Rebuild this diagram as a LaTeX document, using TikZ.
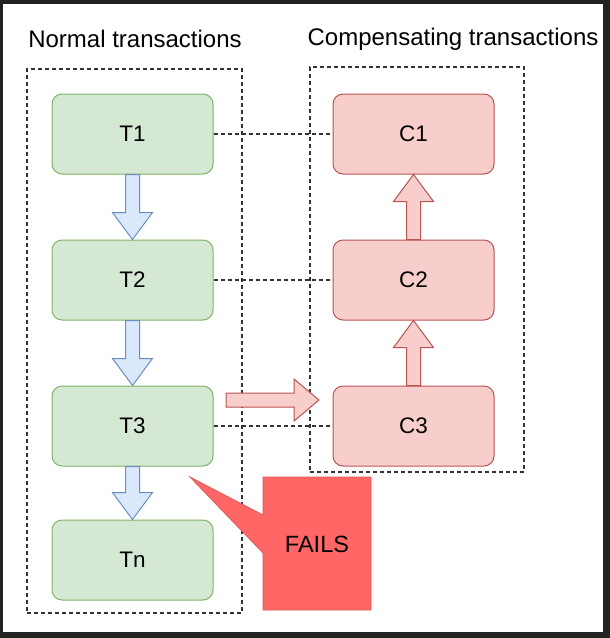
\documentclass[tikz,border=0pt]{standalone}
\usepackage{fontspec}
\setmainfont{Liberation Sans}
\usetikzlibrary{calc}
\definecolor{gfill}{HTML}{D5E8D4}
\definecolor{gline}{HTML}{82B366}
\definecolor{rfill}{HTML}{F8CECC}
\definecolor{rline}{HTML}{B85450}
\definecolor{bfill}{HTML}{DAE8FC}
\definecolor{bline}{HTML}{6C8EBF}
\definecolor{failfill}{HTML}{FF6666}
\definecolor{failline}{HTML}{E05A5A}
\definecolor{frame}{HTML}{222222}
\definecolor{dashc}{HTML}{333333}
\tikzset{
  tbox/.style={draw=gline, fill=gfill, line width=1pt, rounded corners=10pt,
    minimum width=161pt, minimum height=80pt, inner sep=0pt,
    font=\fontsize{22.5}{26}\selectfont},
  cbox/.style={tbox, draw=rline, fill=rfill},
  dbox/.style={draw=dashc, line width=1.2pt, dash pattern=on 4pt off 3pt,
    minimum width=#1, inner sep=0pt},
  dline/.style={draw=dashc, line width=1.2pt, dash pattern=on 4pt off 3pt},
  blarrow/.style={draw=bline, fill=bfill, line width=1pt, line join=miter},
  rdarrow/.style={draw=rline, fill=rfill, line width=1pt, line join=miter},
  title/.style={font=\fontsize{24}{28}\selectfont, inner sep=0pt}
}
\newcommand\vblock[3]{%
  \path[#1] let \p1=(#2), \p2=(#3), \n1={sign(\y2-\y1)} in
    (\x1-7pt,\y1) -- (\x1-7pt,\y2-\n1*27pt) -- (\x1-20pt,\y2-\n1*27pt) --
    (\x1,\y2) -- (\x1+20pt,\y2-\n1*27pt) -- (\x1+7pt,\y2-\n1*27pt) --
    (\x1+7pt,\y1) -- cycle;}
\newcommand\hblock[3]{%
  \path[#1] let \p1=(#2), \p2=(#3), \n1={sign(\x2-\x1)} in
    (\x1,\y1-7pt) -- (\x2-\n1*25pt,\y1-7pt) -- (\x2-\n1*25pt,\y1-21pt) --
    (\x2,\y1) -- (\x2-\n1*25pt,\y1+21pt) -- (\x2-\n1*25pt,\y1+7pt) --
    (\x1,\y1+7pt) -- cycle;}
\begin{document}
\begin{tikzpicture}[x=1pt,y=-1pt]
\fill[frame] (0,0) rectangle (610,638);
\fill[white] (3,4) rectangle (603,632);
\useasboundingbox (0,0) rectangle (610,638);

\node[title] (ntitle) at (135,39) {Normal transactions};
\node[title] (ctitle) at (453,39) {Compensating transactions};

\node[dbox=215pt, minimum height=544pt] (lbox) at (134.5,341) {};
\node[dbox=214pt, minimum height=405pt] (rbox) at (417,269.5) {};

\node[tbox] (T1) at (132.5,134) {T1};
\node[tbox] (T2) at (132.5,280) {T2};
\node[tbox] (T3) at (132.5,426) {T3};
\node[tbox] (Tn) at (132.5,560) {Tn};
\node[cbox] (C1) at (413.5,134) {C1};
\node[cbox] (C2) at (413.5,280) {C2};
\node[cbox] (C3) at (413.5,426) {C3};

\draw[dline] (T1.east) -- (C1.west);
\draw[dline] (T2.east) -- (C2.west);
\draw[dline] (T3.east) -- (C3.west);

\vblock{blarrow}{T1.south}{T2.north}
\vblock{blarrow}{T2.south}{T3.north}
\vblock{blarrow}{T3.south}{Tn.north}
\vblock{rdarrow}{C3.north}{C2.south}
\vblock{rdarrow}{C2.north}{C1.south}

\coordinate (rs) at (226,400);
\coordinate (re) at (319,400);
\hblock{rdarrow}{rs}{re}

\coordinate (tip) at (190,477);
\path[draw=failline, fill=failfill, line width=0.8pt, line join=miter]
  (263,477) -- (371,477) -- (371,610) -- (263,610) -- (263,553) -- (tip) -- (263,515) -- cycle;
\node[font=\fontsize{23.5}{27}\selectfont, inner sep=0pt] (fails) at (317,544) {FAILS};
\end{tikzpicture}
\end{document}
